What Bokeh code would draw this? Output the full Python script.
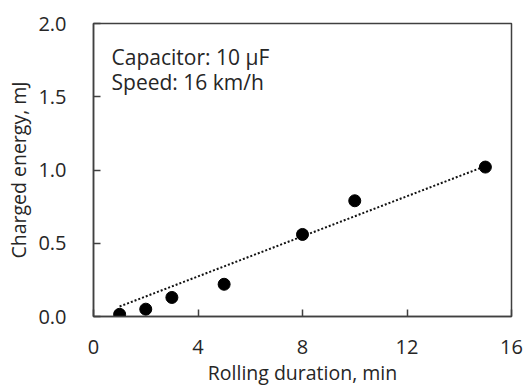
import numpy as np
from bokeh.plotting import figure
from bokeh.models import Range1d, FixedTicker, Label, ColumnDataSource
from bokeh.embed import file_html
from bokeh.resources import INLINE

duration_min = [1, 2, 3, 5, 8, 10, 15]
energy_mJ = [0.015, 0.05, 0.13, 0.22, 0.56, 0.79, 1.02]
x_ticks = [0, 4, 8, 12, 16]
y_ticks = [0.0, 0.5, 1.0, 1.5, 2.0]

FONT = "Open Sans"
TXT = "#262626"
AX = "#404040"

p = figure(width=523, height=390, output_backend="svg", toolbar_location=None,
           x_range=Range1d(0, 16), y_range=Range1d(0, 2),
           min_border_left=93, min_border_right=12, min_border_top=23, min_border_bottom=74)
p.grid.visible = False
p.outline_line_color = AX
p.outline_line_width = 1.5
p.background_fill_color = "white"
p.border_fill_color = "white"

for ax in (p.xaxis[0], p.yaxis[0]):
    ax.axis_line_color = AX
    ax.axis_line_width = 1.5
    ax.major_tick_line_color = AX
    ax.major_tick_line_width = 1.5
    ax.major_tick_in = 7
    ax.major_tick_out = 0
    ax.minor_tick_line_color = None
    ax.major_label_text_font = FONT
    ax.major_label_text_font_size = "20px"
    ax.major_label_text_color = TXT
    ax.axis_label_text_font = FONT
    ax.axis_label_text_font_size = "19.5px"
    ax.axis_label_text_font_style = "normal"
    ax.axis_label_text_color = TXT

p.xaxis.ticker = FixedTicker(ticks=x_ticks)
p.yaxis.ticker = FixedTicker(ticks=y_ticks)
p.yaxis.major_label_overrides = {t: f"{t:.1f}" for t in y_ticks}
p.xaxis.major_label_standoff = 23
p.yaxis.major_label_standoff = 27
p.xaxis.axis_label = "Rolling duration, min"
p.yaxis.axis_label = "Charged energy, mJ"
p.xaxis.axis_label_standoff = 2
p.yaxis.axis_label_standoff = 3

# linear trend through the origin
xa = np.array(duration_min, dtype=float)
ya = np.array(energy_mJ, dtype=float)
slope = float((xa * ya).sum() / (xa * xa).sum())
tx = [xa.min(), xa.max()]
ty = [slope * v for v in tx]
p.line(tx, ty, line_color="#111111", line_width=2, line_dash="2 2")

src = ColumnDataSource(dict(x=duration_min, y=energy_mJ))
p.scatter("x", "y", source=src, size=12, fill_color="black", line_color="black")

p.add_layout(Label(x=0.69, y=1.768, text="Capacitor: 10 μF", text_font=FONT,
                   text_font_size="21px", text_color=TXT, text_baseline="alphabetic"))
p.add_layout(Label(x=0.69, y=1.602, text="Speed: 16 km/h", text_font=FONT,
                   text_font_size="21px", text_color=TXT, text_baseline="alphabetic"))

open("out.html", "w").write(file_html(p, INLINE))
